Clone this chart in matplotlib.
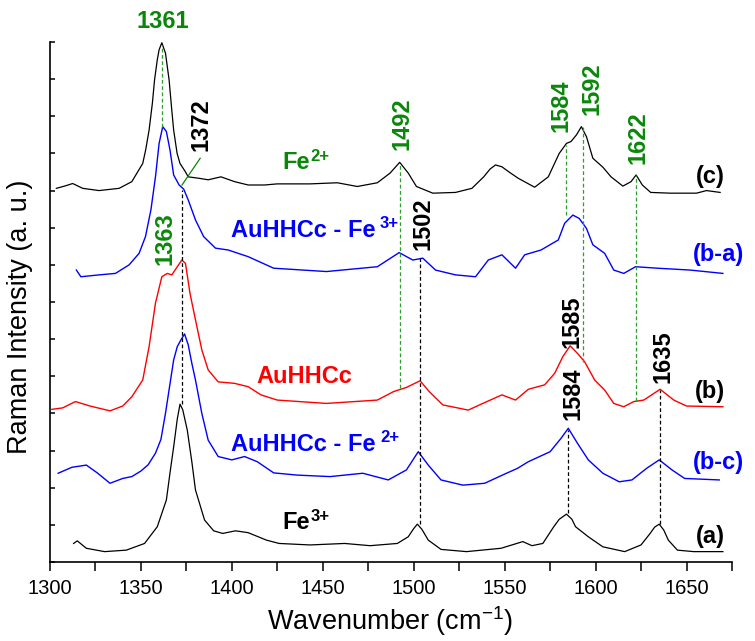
import numpy as np
import matplotlib
matplotlib.use('Agg')
import matplotlib.pyplot as plt

plt.rcParams['font.family'] = ['Liberation Sans', 'DejaVu Sans']
plt.rcParams['mathtext.fontset'] = 'custom'
plt.rcParams['mathtext.rm'] = 'Liberation Sans'
plt.rcParams['mathtext.bf'] = 'Liberation Sans:bold'
plt.rcParams['mathtext.it'] = 'Liberation Sans:italic'

# (a) Fe3+ spectrum
wn_a = [1313, 1315, 1320, 1330, 1342, 1352, 1359, 1364, 1366, 1368, 1370, 1371.5, 1373, 1375.5, 1378,
        1380, 1385, 1390, 1395, 1402, 1409, 1419, 1426, 1443, 1462, 1476, 1491, 1497, 1500, 1502,
        1504.5, 1508, 1515, 1529, 1548, 1560, 1565, 1571, 1577, 1580, 1584, 1587, 1589, 1596, 1604,
        1616, 1625, 1630, 1632.5, 1635, 1637.5, 1640, 1645, 1654, 1670]
int_a = [0.50, 0.57, 0.37, 0.28, 0.32, 0.50, 0.95, 1.67, 2.40, 3.10, 3.85, 4.25, 4.10, 3.55, 2.70,
         1.94, 1.13, 0.84, 0.77, 0.84, 0.79, 0.59, 0.50, 0.46, 0.50, 0.44, 0.50, 0.68, 0.90, 1.02,
         0.88, 0.59, 0.34, 0.28, 0.37, 0.55, 0.44, 0.50, 0.95, 1.15, 1.29, 1.15, 0.95, 0.68, 0.41,
         0.28, 0.46, 0.77, 0.94, 1.02, 0.86, 0.59, 0.32, 0.28, 0.28]

# (b-c) AuHHCc - Fe2+
wn_bc = [1304.5, 1312, 1320, 1326, 1333, 1340, 1345, 1350, 1354, 1358, 1361, 1363.5, 1366, 1368, 1370,
         1372, 1374, 1376, 1378, 1380, 1383.5, 1387, 1392.5, 1400, 1407, 1414, 1423, 1436, 1454, 1472,
         1486, 1496, 1502.5, 1508, 1515, 1527, 1539, 1551, 1557, 1563, 1575, 1581, 1585, 1590, 1596,
         1604, 1613, 1620, 1628, 1635, 1642, 1649, 1668]
int_bc = [2.39, 2.55, 2.61, 2.40, 2.12, 2.25, 2.30, 2.45, 2.62, 2.93, 3.30, 4.00, 4.80, 5.44, 5.80,
          5.98, 6.14, 5.85, 5.35, 4.90, 4.00, 3.28, 2.84, 2.75, 2.84, 2.70, 2.40, 2.34, 2.30, 2.39,
          2.21, 2.48, 2.97, 2.61, 2.21, 2.07, 2.12, 2.39, 2.52, 2.70, 2.97, 3.33, 3.60, 3.20, 2.75,
          2.39, 2.16, 2.21, 2.52, 2.75, 2.48, 2.25, 2.21]

# (b) AuHHCc
wn_b = [1301, 1307, 1314, 1322, 1333, 1340, 1345, 1351, 1354.5, 1358, 1361.5, 1364.5, 1367, 1370, 1372.5,
        1374.5, 1377, 1380, 1383.5, 1387, 1392.5, 1401.5, 1409, 1416, 1425, 1452, 1480, 1489, 1496, 1503.5,
        1508.5, 1516, 1530, 1538, 1548.5, 1556, 1563, 1572, 1577.5, 1582, 1586, 1590, 1594, 1599.5, 1605,
        1610, 1615.5, 1621, 1626.5, 1635.5, 1643, 1650, 1670]
int_b = [4.11, 4.15, 4.32, 4.20, 4.07, 4.20, 4.45, 4.90, 5.80, 6.97, 7.68, 7.77, 7.73, 7.95, 8.13,
         8.04, 7.23, 6.52, 5.71, 5.17, 4.85, 4.81, 4.72, 4.50, 4.36, 4.27, 4.36, 4.59, 4.70, 4.88,
         4.59, 4.23, 4.09, 4.27, 4.50, 4.36, 4.65, 4.77, 5.08, 5.53, 5.82, 5.62, 5.39, 4.90, 4.63,
         4.27, 4.18, 4.32, 4.36, 4.65, 4.36, 4.20, 4.18]

# (b-a) AuHHCc - Fe3+
wn_ba = [1314.5, 1317, 1327, 1336, 1343.5, 1349, 1352.5, 1355.5, 1358, 1360, 1362, 1364, 1366, 1368, 1371,
         1373.5, 1376, 1380, 1384.5, 1391, 1398, 1409, 1423, 1452, 1480, 1492, 1499.5, 1505, 1512, 1523,
         1534, 1541, 1548.5, 1556, 1561, 1570, 1579.5, 1583, 1587.5, 1591, 1595, 1598.5, 1605, 1610,
         1615.5, 1622, 1634, 1652, 1670]
int_ba = [7.86, 7.68, 7.73, 7.77, 8.00, 8.31, 8.76, 9.48, 10.37, 11.27, 11.72, 11.59, 11.09, 10.42, 10.15,
          10.04, 9.75, 9.21, 8.76, 8.45, 8.40, 8.22, 7.91, 7.82, 7.95, 8.33, 8.13, 8.18, 7.86, 7.73,
          7.68, 8.13, 8.27, 7.91, 8.27, 8.40, 8.67, 9.12, 9.34, 9.25, 8.98, 8.54, 8.31, 7.86,
          7.77, 7.95, 7.91, 7.86, 7.77]

# (c) Fe2+ spectrum
wn_c = [1303.5, 1308, 1312.5, 1318, 1327, 1338, 1345, 1351, 1352.6, 1354.5, 1356.3, 1357.5, 1359, 1360, 1361.5,
        1363.5, 1365.5, 1366.8, 1368, 1369.9, 1371.5, 1374.4, 1376, 1382, 1387, 1394, 1401.5, 1409, 1418, 1425,
        1443, 1458, 1469, 1480, 1487, 1492.3, 1497, 1501.5, 1510.5, 1523, 1532, 1538.5, 1542, 1545, 1548.5,
        1553, 1557.5, 1566.5, 1574, 1580, 1584, 1586.5, 1589.5, 1592.2, 1595, 1598.5, 1604, 1608.5, 1615,
        1619.5, 1622.3, 1625.7, 1630.3, 1641, 1655.5, 1661, 1668.5]
int_c = [10.06, 10.12, 10.19, 10.06, 10.00, 10.06, 10.24, 10.73, 11.09, 11.63, 12.35, 12.98, 13.52, 13.79, 13.98,
         13.70, 12.98, 12.26, 11.63, 11.00, 10.73, 10.51, 10.37, 10.33, 10.29, 10.37, 10.24, 10.15, 10.15, 10.18,
         10.18, 10.21, 10.11, 10.21, 10.47, 10.76, 10.47, 10.11, 9.93, 9.95, 10.06, 10.37, 10.58, 10.69, 10.64,
         10.48, 10.33, 10.09, 10.37, 11.00, 11.27, 11.32, 11.50, 11.72, 11.45, 10.87, 10.63, 10.37, 10.12,
         10.24, 10.42, 10.15, 9.95, 9.93, 9.93, 10.00, 9.95]

# peak marker lines: position, lower end, upper end
green_x = [1361.7, 1492.3, 1584, 1593, 1622.1]
green_lo = [11.71, 4.68, 9.34, 5.39, 4.33]
green_hi = [13.92, 10.74, 11.23, 11.71, 10.42]
black_x = [1372.6, 1503.3, 1585, 1635.4]
black_lo = [4.25, 1.02, 1.32, 1.02]
black_hi = [10.02, 8.18, 3.55, 4.63]

GREEN = '#0a870a'
BLUE = '#0000ff'
RED = '#ff0000'
fig = plt.figure(figsize=(7.55, 6.41), dpi=100)
ax = fig.add_axes([0.0662, 0.1232, 0.9033, 0.8113])

ax.plot(wn_a, int_a, color='black', lw=0.9)
ax.plot(wn_bc, int_bc, color=BLUE, lw=1.0)
ax.plot(wn_b, int_b, color=RED, lw=1.0)
ax.plot(wn_ba, int_ba, color=BLUE, lw=1.0)
ax.plot(wn_c, int_c, color='black', lw=0.9)

ax.vlines(green_x, green_lo, green_hi, colors='#2e9e2e', linestyles=(0, (3, 2)), lw=0.9)
ax.vlines(black_x, black_lo, black_hi, colors='black', linestyles=(0, (3, 2)), lw=0.9)
ax.plot([1372.6, 1382.6], [10.15, 10.87], color=GREEN, lw=0.9)

ax.set_xlim(1300, 1671)
ax.set_ylim(0, 14)
ax.set_xticks(np.arange(1300, 1651, 50))
ax.set_xticks(np.arange(1325, 1676, 50), minor=True)
ax.set_yticks(np.arange(0, 15, 1))
ax.tick_params(axis='x', which='both', direction='out', length=6.5, width=1.1, labelsize=14.5, pad=6)
ax.tick_params(axis='y', direction='in', length=3.5, width=1.1, labelleft=False)
for s in ['top', 'right']:
    ax.spines[s].set_visible(False)
for s in ['left', 'bottom']:
    ax.spines[s].set_linewidth(1.2)

fig.text(20 / 755, 0.506, 'Raman Intensity (a. u.)', rotation=90, ha='center', va='center', fontsize=19.5)
fig.text(390 / 755, 0.017, 'Wavenumber (cm$^{-1}$)', ha='center', va='baseline', fontsize=19.5)

fs = 17
bold = dict(fontsize=fs, fontweight='bold')
# horizontal peak label
ax.text(1362.1, 14.54, '1361', color=GREEN, ha='center', va='center', **bold)

# rotated peak labels
rot = [(1383.3, 11.77, '1372', 'black'), (1493.8, 11.79, '1492', GREEN), (1505.2, 9.10, '1502', 'black'),
       (1580.9, 12.28, '1584', GREEN), (1597.8, 12.74, '1592', GREEN), (1623.4, 11.43, '1622', GREEN),
       (1363.1, 8.71, '1363', GREEN), (1586.9, 6.46, '1585', 'black'), (1637.0, 5.52, '1635', 'black'),
       (1587.4, 4.52, '1584', 'black')]
for x, y, t, c in rot:
    ax.text(x, y, t, color=c, rotation=90, ha='center', va='center', **bold)

# sample names, superscript drawn as a second small text next to the base text
names = [(1427.9, 10.57, 'Fe', '2+', GREEN, 0.5),
         (1399.6, 8.75, 'AuHHCc - Fe', '3+', BLUE, 3),
         (1413.4, 4.83, 'AuHHCc', '', RED, 0),
         (1399.8, 3.00, 'AuHHCc - Fe', '2+', BLUE, 3),
         (1427.9, 0.88, 'Fe', '3+', 'black', 0.5)]
for x, y, base, sup, c, gap in names:
    t = ax.text(x, y, base, color=c, ha='left', va='baseline', **bold)
    if sup:
        ax.annotate(sup, xy=(1, 1), xycoords=t, xytext=(gap, 2), textcoords='offset points',
                    ha='left', va='top', color=c, fontsize=12, fontweight='bold')

# curve tags
tags = [(1663.1, 10.39, '(c)', 'black'), (1667.4, 8.29, '(b-a)', BLUE), (1663.1, 4.58, '(b)', 'black'),
        (1667.4, 2.69, '(b-c)', BLUE), (1663.1, 0.70, '(a)', 'black')]
for x, y, t, c in tags:
    ax.text(x, y, t, color=c, ha='center', va='center', clip_on=False, **bold)

fig.savefig('out.png', dpi=100)
